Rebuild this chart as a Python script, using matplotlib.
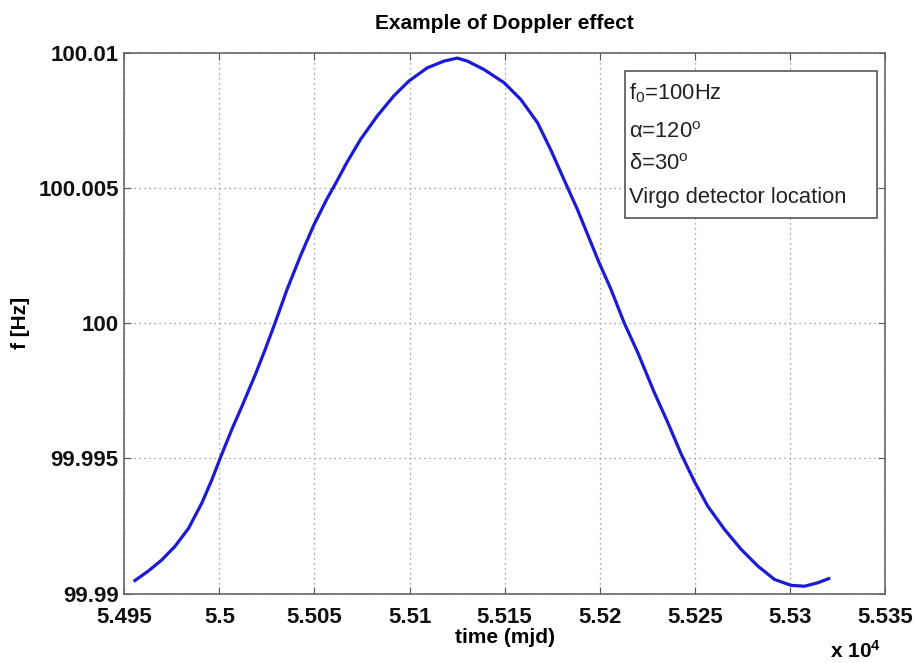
import matplotlib
matplotlib.use("Agg")
import matplotlib.pyplot as plt
from matplotlib.patches import Rectangle
from matplotlib.ticker import FixedLocator, FixedFormatter

# values: time in mjd, frequency in Hz
time_mjd = [54955.6, 54962.6, 54969.7, 54976.7, 54983.7, 54990.8, 54996.0, 55000.4,
            55006.6, 55011.9, 55018.9, 55024.1, 55029.4, 55035.6, 55042.6, 55049.6,
            55056.6, 55061.0, 55067.2, 55074.2, 55083.0, 55091.7, 55099.6, 55109.3,
            55118.1, 55125.1, 55130.4, 55139.1, 55149.7, 55158.5, 55167.3, 55174.3,
            55182.2, 55188.4, 55195.4, 55199.7, 55205.9, 55212.9, 55220.0, 55228.7,
            55235.8, 55242.8, 55249.8, 55256.8, 55265.6, 55274.4, 55283.2, 55291.9,
            55300.7, 55307.7, 55314.8, 55320.4]
freq_hz = [99.99048, 99.99083, 99.99124, 99.99175, 99.99240, 99.99335, 99.99420, 99.99500,
           99.99608, 99.99693, 99.99810, 99.99903, 100.00003, 100.00125, 100.00248, 100.00362,
           100.00460, 100.00515, 100.00596, 100.00679, 100.00766, 100.00840, 100.00895, 100.00944,
           100.00969, 100.00980, 100.00969, 100.00938, 100.00889, 100.00827, 100.00741, 100.00640,
           100.00515, 100.00418, 100.00297, 100.00223, 100.00125, 100.00000, 99.99891, 99.99743,
           99.99632, 99.99516, 99.99414, 99.99323, 99.99237, 99.99163, 99.99101, 99.99052,
           99.99030, 99.99027, 99.99040, 99.99055]

x_ticks = [5.495, 5.5, 5.505, 5.51, 5.515, 5.52, 5.525, 5.53, 5.535]
x_labels = ["5.495", "5.5", "5.505", "5.51", "5.515", "5.52", "5.525", "5.53", "5.535"]
y_ticks = [99.99, 99.995, 100.0, 100.005, 100.01]
y_labels = ["99.99", "99.995", "100", "100.005", "100.01"]

legend_lines = ["f$_0$=100Hz", "\u03b1=120$^{\\mathrm{o}}$", "\u03b4=30$^{\\mathrm{o}}$",
                "Virgo detector location"]

plt.rcParams['font.family'] = ['Liberation Sans', 'DejaVu Sans']
plt.rcParams['mathtext.fontset'] = 'custom'
plt.rcParams['mathtext.rm'] = 'Liberation Sans'
plt.rcParams['mathtext.it'] = 'Liberation Sans'
plt.rcParams['mathtext.bf'] = 'Liberation Sans:bold'

W, H = 917, 663
fig = plt.figure(figsize=(W / 100, H / 100), dpi=100)
ax = fig.add_axes([124.3 / W, 1 - 593.5 / H, (885 - 124.3) / W, (593.5 - 52.7) / H])

ax.plot([t / 1e4 for t in time_mjd], freq_hz, color="#1a1ad8", linewidth=2.3,
        solid_joinstyle="round")

ax.set_xlim(5.495, 5.535)
ax.set_ylim(99.99, 100.01)
ax.xaxis.set_major_locator(FixedLocator(x_ticks))
ax.xaxis.set_major_formatter(FixedFormatter(x_labels))
ax.yaxis.set_major_locator(FixedLocator(y_ticks))
ax.yaxis.set_major_formatter(FixedFormatter(y_labels))
ax.grid(True, linestyle=(0, (1, 3)), color="#888888", linewidth=0.9)
ax.tick_params(direction="in", length=5, color="#555555", labelsize=16,
               top=True, right=True)
ax.tick_params(axis="x", pad=10)
ax.tick_params(axis="y", pad=4)
for lbl in ax.get_xticklabels() + ax.get_yticklabels():
    lbl.set_fontweight("bold")
    lbl.set_color("#111111")
for s in ax.spines.values():
    s.set_color("#666666")
    s.set_linewidth(1.2)

ax.set_title("Example of Doppler effect", fontsize=15, fontweight="bold", pad=17)
ax.set_xlabel("time (mjd)", fontsize=15, fontweight="bold", labelpad=0)
ax.set_ylabel("f [Hz]", fontsize=15, fontweight="bold")
ax.yaxis.set_label_coords((30 - 124.3) / 760.7, 0.5)
fig.text(855 / W, 1 - 651 / H, "x 10$^{\\mathbf{4}}$", fontsize=15, fontweight="bold",
         ha="center", va="center")

# annotation box, upper right
box = Rectangle((625 / W, 1 - 218 / H), 252 / W, 147.3 / H, transform=fig.transFigure,
                facecolor="white", edgecolor="#555555", linewidth=1.2, zorder=5)
fig.patches.append(box)
ys = [93, 132, 164, 197]
for txt, yy in zip(legend_lines, ys):
    fig.text(629 / W, 1 - yy / H, txt, fontsize=15.8, color="#222222",
             va="center", ha="left", zorder=6)

fig.savefig("out.png", dpi=100)
